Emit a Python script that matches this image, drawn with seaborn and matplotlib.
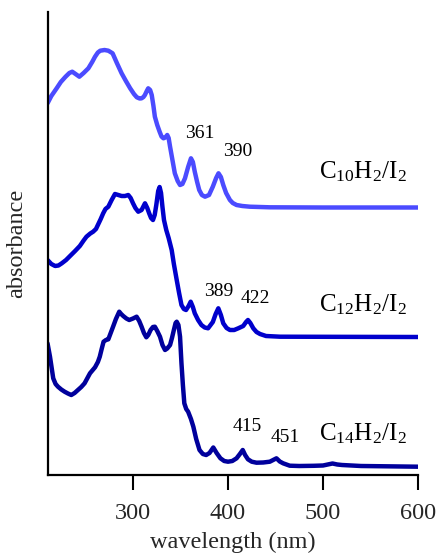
import numpy as np
import pandas as pd
import matplotlib
matplotlib.use("Agg")
import matplotlib.pyplot as plt
import seaborn as sns

# ---------------- data (wavelength nm, absorbance, stacked/offset) ----------------
c10_nm = [210, 214, 219.6, 224, 229, 233, 236, 239.5, 243.5, 248, 253, 257, 260, 263, 265.5,
          270, 274, 278.5, 283, 288, 292.5, 297, 301, 304, 307, 309, 311, 312.5, 314.5, 316,
          318, 319.7, 321.5, 323, 325.5, 328, 330, 332, 334, 336, 337.5, 339, 341.5, 344,
          347, 349.5, 352, 354.7, 358, 361, 363, 365, 367.5, 369.7, 372.5, 375.8, 380, 384,
          387.5, 390, 392.5, 395, 398, 402, 405, 409, 415, 423, 444, 500, 600]
c10_abs = [3.717, 3.79, 3.867, 3.93, 3.983, 4.02, 4.033, 4.01, 3.983, 4.02, 4.067, 4.13,
           4.183, 4.225, 4.243, 4.25, 4.243, 4.217, 4.12, 4.017, 3.94, 3.867, 3.81, 3.777,
           3.765, 3.767, 3.78, 3.80, 3.84, 3.867, 3.85, 3.80, 3.69, 3.583, 3.50, 3.433, 3.385,
           3.367, 3.375, 3.40, 3.37, 3.283, 3.15, 3.017, 2.94, 2.90, 2.91, 2.967, 3.08,
           3.167, 3.13, 3.033, 2.93, 2.85, 2.80, 2.783, 2.80, 2.883, 2.97, 3.017, 2.98, 2.90,
           2.82, 2.75, 2.72, 2.70, 2.69, 2.683, 2.677, 2.675, 2.675]

c12_nm = [210, 214, 218, 221.5, 225, 229.5, 233.7, 239, 244, 248, 251, 255, 258, 261, 263,
          266, 268.6, 271, 274, 277.5, 281, 284.5, 288, 291.5, 295, 297.5, 300, 302.5, 305.5,
          309, 312.6, 315, 317, 319, 321, 322.8, 324.5, 326.5, 328, 329.5, 331, 332.6, 335,
          337.5, 340.7, 343, 346, 348.5, 351, 353.5, 355.8, 358.5, 360.7, 363, 365, 368.5,
          372, 375.5, 379, 384, 387, 389.8, 392.5, 395, 398.5, 402, 406.5, 410.8, 416, 419,
          421, 423.5, 426.6, 430, 433.7, 440, 454.7, 600]
c12_abs = [2.15, 2.11, 2.09, 2.095, 2.117, 2.15, 2.19, 2.24, 2.29, 2.345, 2.383, 2.415, 2.433,
           2.46, 2.50, 2.56, 2.617, 2.66, 2.683, 2.75, 2.81, 2.80, 2.79, 2.79, 2.80, 2.77,
           2.717, 2.67, 2.633, 2.65, 2.717, 2.67, 2.617, 2.57, 2.55, 2.60, 2.70, 2.84, 2.88,
           2.82, 2.68, 2.55, 2.45, 2.37, 2.25, 2.11, 1.95, 1.82, 1.70, 1.66, 1.65, 1.69,
           1.733, 1.68, 1.617, 1.55, 1.50, 1.475, 1.467, 1.53, 1.61, 1.667, 1.60, 1.517,
           1.47, 1.45, 1.45, 1.467, 1.49, 1.53, 1.55, 1.52, 1.467, 1.43, 1.41, 1.39, 1.383,
           1.38]

c14_nm = [210, 212.6, 216, 218.5, 221, 224.5, 228, 231.5, 235, 238.5, 242, 245.5, 249, 254.7,
          260, 263, 265, 267, 269, 271.5, 274, 276.5, 279, 282, 285.5, 287.5, 289.7, 293, 296,
          300, 303.8, 306.5, 309, 311.5, 314, 316, 318.5, 321, 323, 325.5, 328.4, 331, 333.7,
          336, 339, 341, 343, 344.8, 346, 347.8, 349.5, 351, 352.5, 354, 356, 358, 361, 363.5,
          366.5, 370, 373.5, 377, 380.5, 384.5, 388, 392, 396, 400, 404.5, 409, 412.5,
          415.5, 418, 421, 425, 430, 437, 444, 447.5, 451, 454.5, 458, 465, 475, 490, 500,
          505, 510, 515, 520, 540, 600]
c14_abs = [1.317, 1.183, 0.967, 0.91, 0.883, 0.855, 0.833, 0.815, 0.80, 0.82, 0.85, 0.88,
           0.917, 1.017, 1.077, 1.13, 1.183, 1.26, 1.333, 1.35, 1.357, 1.42, 1.483, 1.56,
           1.633, 1.61, 1.59, 1.565, 1.55, 1.565, 1.583, 1.54, 1.483, 1.42, 1.377, 1.40,
           1.45, 1.48, 1.483, 1.44, 1.383, 1.30, 1.25, 1.265, 1.30, 1.37, 1.45, 1.52, 1.533,
           1.50, 1.383, 1.117, 0.90, 0.717, 0.66, 0.633, 0.56, 0.483, 0.36, 0.25, 0.21,
           0.20, 0.22, 0.275, 0.22, 0.167, 0.14, 0.133, 0.14, 0.167, 0.21, 0.25, 0.20,
           0.157, 0.133, 0.123, 0.125, 0.133, 0.15, 0.167, 0.135, 0.117, 0.093, 0.09, 0.092,
           0.095, 0.105, 0.115, 0.105, 0.10, 0.09, 0.083]

series_names = ["C$_{10}$H$_2$/I$_2$", "C$_{12}$H$_2$/I$_2$", "C$_{14}$H$_2$/I$_2$"]
series_colors = ["#4b4bff", "#0000cc", "#00009c"]

peak_labels = ["361", "390", "389", "422", "415", "451"]
peak_pos = [(370.5, 3.417), (409.7, 3.24), (390.3, 1.833), (428.8, 1.762),
            (420.7, 0.487), (460.3, 0.38)]
name_pos = [(541.5, 2.967), (542.4, 1.64), (542.0, 0.35)]

x_ticks = [300, 400, 500, 600]

# ---------------- build table ----------------
frames = []
for name, nm, ab in zip(series_names, [c10_nm, c12_nm, c14_nm], [c10_abs, c12_abs, c14_abs]):
    frames.append(pd.DataFrame({"wavelength": nm, "absorbance": ab, "sample": name}))
df = pd.concat(frames, ignore_index=True)

sns.set_style("white")
plt.rcParams["font.family"] = ["Liberation Serif", "DejaVu Serif"]
plt.rcParams["mathtext.fontset"] = "custom"
plt.rcParams["mathtext.rm"] = "Liberation Serif"
plt.rcParams["mathtext.it"] = "Liberation Serif:italic"

fig = plt.figure(figsize=(4.39, 5.56), dpi=100)
ax = fig.add_axes([48 / 439, 81 / 556, 370 / 439, 463 / 556])

sns.lineplot(data=df, x="wavelength", y="absorbance", hue="sample",
             palette=dict(zip(series_names, series_colors)), sort=False,
             estimator=None, linewidth=3.2, legend=False, ax=ax,
             solid_joinstyle="round", solid_capstyle="round")

ax.set_xlim(210.5, 600)
ax.set_ylim(0, 4.63)
ax.set_xticks(x_ticks)
ax.set_xticklabels([str(t) for t in x_ticks])
ax.set_yticks([])
for s in ["top", "right"]:
    ax.spines[s].set_visible(False)
for s in ["left", "bottom"]:
    ax.spines[s].set_color("black")
    ax.spines[s].set_linewidth(1.6)
ax.tick_params(axis="x", direction="out", length=11, width=1.5, color="black",
               labelsize=17.5, pad=9, bottom=True)
ax.set_xlabel("wavelength (nm)", fontsize=17.5, labelpad=6)
ax.set_ylabel("absorbance", fontsize=17.5, labelpad=15)

for lab, (x, y) in zip(peak_labels, peak_pos):
    ax.text(x, y, lab, fontsize=14, ha="center", va="center", color="black")
for lab, (x, y) in zip(series_names, name_pos):
    ax.text(x, y, lab, fontsize=18, ha="center", va="baseline", color="black")

fig.savefig("out.png", dpi=100)
